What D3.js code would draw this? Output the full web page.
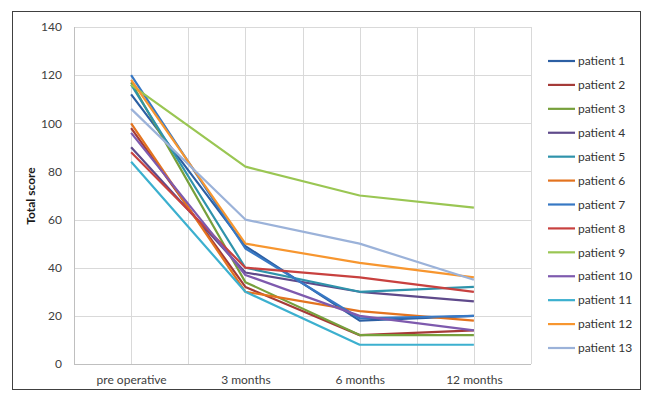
<!DOCTYPE html>
<html>
<head>
<meta charset="utf-8">
<script src="https://cdn.jsdelivr.net/npm/d3@7"></script>
<style>
    body { margin: 0; background: #fff; }
    svg { font-family: Lato, "Liberation Sans", sans-serif; }
</style>
</head>
<body>
<script>

var categories = ["pre operative", "3 months", "6 months", "12 months"];
var yTicks = [0, 20, 40, 60, 80, 100, 120, 140];

var patientNames = ["patient 1", "patient 2", "patient 3", "patient 4", "patient 5", "patient 6", "patient 7",
    "patient 8", "patient 9", "patient 10", "patient 11", "patient 12", "patient 13"];

var patient1 = [112, 49, 18, 20];
var patient2 = [98, 32, 12, 14];
var patient3 = [117, 34, 12, 12];
var patient4 = [90, 38, 30, 26];
var patient5 = [116, 40, 30, 32];
var patient6 = [100, 30, 22, 18];
var patient7 = [120, 48, 19, 20];
var patient8 = [88, 40, 36, 30];
var patient9 = [116, 82, 70, 65];
var patient10 = [96, 37, 20, 14];
var patient11 = [84, 30, 8, 8];
var patient12 = [118, 50, 42, 36];
var patient13 = [106, 60, 50, 35];

var colors = ["#2c5fa3", "#a53b38", "#77a03c", "#5f4a8b", "#2f93ab", "#e3731f", "#3778c4",
    "#c8413f", "#9ac653", "#7e5aae", "#3cb0cf", "#f7962f", "#9bb2d9"];

var allSeries = [patient1, patient2, patient3, patient4, patient5, patient6, patient7,
    patient8, patient9, patient10, patient11, patient12, patient13];

var w = 650;
var h = 400;

var svg = d3.select("body").append("svg")
    .attr("width", w)
    .attr("height", h);

// outer frame
svg.append("rect")
    .attr("x", 12.5)
    .attr("y", 11.5)
    .attr("width", 628)
    .attr("height", 378)
    .attr("fill", "none")
    .attr("stroke", "#404040")
    .attr("stroke-width", 1);

var xScale = d3.scalePoint()
    .domain(categories)
    .range([74, 531])
    .padding(0.5);

var yScale = d3.scaleLinear()
    .domain([0, 140])
    .range([364, 27]);

var step = xScale.step();

// horizontal grid
svg.selectAll(".hgrid")
    .data(yTicks)
    .enter().append("line")
    .attr("class", "hgrid")
    .attr("x1", 74)
    .attr("x2", 531)
    .attr("y1", function (d) { return Math.round(yScale(d)) + 0.5 })
    .attr("y2", function (d) { return Math.round(yScale(d)) + 0.5 })
    .attr("stroke", function (d) { return d === 0 ? "#bfbfbf" : "#d9d9d9" })
    .attr("stroke-width", 1);

// vertical grid: category centres and band edges
var vLines = [];
categories.forEach(function (c, i) {
    vLines.push(xScale(c) - step / 2);
    vLines.push(xScale(c));
});
vLines.push(xScale(categories[categories.length - 1]) + step / 2);

svg.selectAll(".vgrid")
    .data(vLines)
    .enter().append("line")
    .attr("class", "vgrid")
    .attr("x1", function (d) { return Math.round(d) + 0.5 })
    .attr("x2", function (d) { return Math.round(d) + 0.5 })
    .attr("y1", yScale(140))
    .attr("y2", yScale(0))
    .attr("stroke", function (d, i) { return i === 0 ? "#bfbfbf" : "#d9d9d9" })
    .attr("stroke-width", 1);

var yAxis = d3.axisLeft(yScale)
    .tickValues(yTicks)
    .tickSize(0)
    .tickPadding(12);
svg.append("g")
    .attr("class", "axisy")
    .attr("transform", "translate(74,0)")
    .call(yAxis);

var xAxis = d3.axisBottom(xScale)
    .tickSize(0)
    .tickPadding(11);
svg.append("g")
    .attr("class", "axis")
    .attr("transform", "translate(0,364)")
    .call(xAxis);

svg.selectAll(".axis .domain, .axisy .domain").remove();
svg.selectAll(".axis text, .axisy text")
    .attr("font-size", 12)
    .attr("font-family", "Lato, 'Liberation Sans', sans-serif")
    .attr("fill", "#404040");

svg.append("text")
    .attr("transform", "translate(35,196) rotate(-90)")
    .attr("text-anchor", "middle")
    .attr("font-size", 12)
    .attr("font-weight", "bold")
    .attr("fill", "#1a1a1a")
    .text("Total score");

var line = d3.line()
    .x(function (d, i) { return xScale(categories[i]) })
    .y(function (d) { return yScale(d) });

svg.selectAll(".series")
    .data(allSeries)
    .enter().append("path")
    .attr("class", "series")
    .attr("d", line)
    .attr("fill", "none")
    .attr("stroke", function (d, i) { return colors[i] })
    .attr("stroke-width", 2.2)
    .attr("stroke-linejoin", "round");

// legend
var legendY = d3.scalePoint()
    .domain(patientNames)
    .range([61, 348]);

var legend = svg.selectAll(".leg")
    .data(patientNames)
    .enter().append("g")
    .attr("class", "leg")
    .attr("transform", function (d) { return "translate(548," + legendY(d) + ")" });

legend.append("line")
    .attr("x1", 0)
    .attr("x2", 27)
    .attr("stroke", function (d, i) { return colors[i] })
    .attr("stroke-width", 2.2);

legend.append("text")
    .attr("x", 30)
    .attr("dy", "0.35em")
    .attr("font-size", 12)
    .attr("fill", "#333")
    .text(function (d) { return d });

</script>
</body>
</html>
